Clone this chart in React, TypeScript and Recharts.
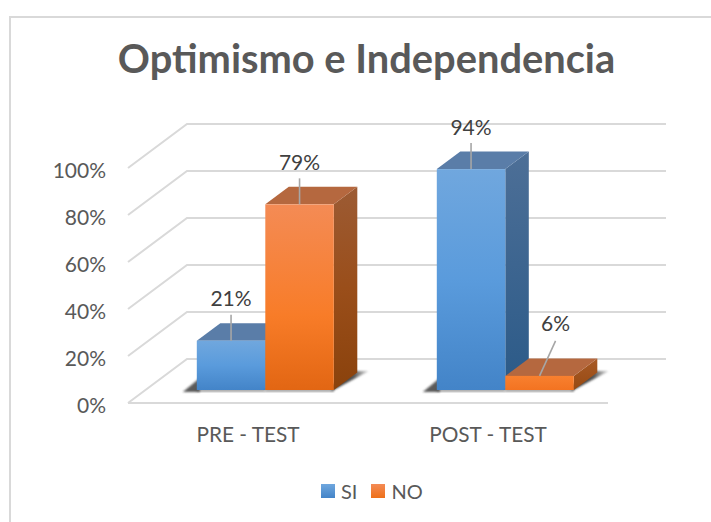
import React from "react";
import { BarChart, Bar, XAxis, YAxis, CartesianGrid, LabelList, Legend } from "recharts";

const categories = ["PRE - TEST", "POST - TEST"];
const siValues = [21, 94];
const noValues = [79, 6];
const yTicks = [0, 20, 40, 60, 80, 100];
const chartData = categories.map((name, i) => ({ name, SI: siValues[i], NO: noValues[i] }));

const FONT = "Lato, 'Open Sans', sans-serif";
const GRID = "#d9d9d9";
// 3D projection
const WALL_DX = 59, WALL_DY = 44;
const BAR_DX = 16.8, BAR_DY = 13;
const DEPTH_DX = 23.5, DEPTH_DY = 17.5;

const grad = (id: string, stops: [string, string][]) => (
  <linearGradient id={id} x1="0" y1="0" x2="0" y2="1">
    {stops.map(([o, c]) => <stop key={o} offset={o} stopColor={c} />)}
  </linearGradient>
);

const poly = (pts: number[][]) => pts.map((p) => p.join(",")).join(" ");

function Column3D(props: any) {
  const { x, y, width, height, kind } = props;
  const x0 = x + BAR_DX, y0 = y - BAR_DY, x1 = x0 + width, yb = y0 + height;
  const short = height < 30;
  const front = kind === "SI" ? "url(#siFront)" : short ? "url(#noFrontShort)" : "url(#noFront)";
  const side = kind === "SI" ? "url(#siSide)" : short ? "url(#noSideShort)" : "url(#noSide)";
  const top = kind === "SI" ? "#5a7da8" : "#b5683f";
  return (
    <g>
      {kind === "SI" ? (
        <polygon points={poly([[x0 - 14, yb + 2], [x0 + 3, yb + 2], [x0 + 3, yb - 12]])} fill="#333" filter="url(#soft)" opacity={0.8} />
      ) : (
        <polygon points={poly([[x1 - 2, yb + 1], [x1 + 35, yb - 19], [x1 + 20, yb - 19], [x1 - 2, yb - 5]])} fill="url(#shadowFade)" filter="url(#soft)" />
      )}
      <rect x={x0} y={yb - 0.5} width={width} height={2} fill="#555" filter="url(#soft)" opacity={0.75} />
      <polygon points={poly([[x1, y0], [x1 + DEPTH_DX, y0 - DEPTH_DY], [x1 + DEPTH_DX, yb - DEPTH_DY], [x1, yb]])} fill={side} />
      <polygon points={poly([[x0, y0], [x0 + DEPTH_DX, y0 - DEPTH_DY], [x1 + DEPTH_DX, y0 - DEPTH_DY], [x1, y0]])} fill={top} />
      <rect x={x0} y={y0} width={width} height={height} fill={front} />
    </g>
  );
}

function LeaderLabel(props: any) {
  const { x, y, width, height, value } = props;
  const cx = x + BAR_DX + width / 2;
  const ty = y - BAR_DY;
  const small = height < 30;
  const lx = small ? cx + 16 : cx;
  const lineEnd = small ? ty - 35 : ty - 26;
  const textY = small ? ty - 53 : ty - 43;
  return (
    <g>
      <line x1={cx} y1={ty} x2={lx} y2={lineEnd} stroke="#a6a6a6" strokeWidth={1.6} />
      <text x={lx} y={textY} textAnchor="middle" dominantBaseline="central" fontFamily={FONT} fontSize={21} fill="#404040">
        {value}%
      </text>
    </g>
  );
}

function GridLine(props: any) {
  const { x1, x2, y1 } = props;
  const isFloor = y1 > 400;
  return (
    <g key={`g-${y1}`}>
      <polyline
        points={poly([[x1, y1], [x1 + WALL_DX, y1 - WALL_DY], [x2 + WALL_DX - 1, y1 - WALL_DY]])}
        fill="none" stroke={GRID} strokeWidth={2}
      />
      {isFloor && <line x1={x1} y1={y1} x2={x2} y2={y1} stroke={GRID} strokeWidth={2} />}
    </g>
  );
}

function LegendBox() {
  const item = (label: string, bg: string, gap: number) => (
    <span style={{ display: "inline-flex", alignItems: "center", marginRight: gap }}>
      <span style={{ display: "inline-block", width: 14, height: 14, background: bg, marginRight: 6 }} />
      <span>{label}</span>
    </span>
  );
  return (
    <div style={{ fontFamily: FONT, fontSize: 20, color: "#595959", lineHeight: "24px", height: 24, display: "flex", whiteSpace: "nowrap" }}>
      {item("SI", "linear-gradient(#6fa7de,#4384c8)", 14)}
      {item("NO", "linear-gradient(#f48b55,#ee7019)", 0)}
    </div>
  );
}

export default function App() {
  return (
    <div style={{ position: "absolute", left: 0, top: 0, width: 711, height: 522, background: "#fff", overflow: "hidden" }}>
      <div style={{ position: "absolute", left: 9, top: 16, width: 720, height: 530, borderLeft: `2px solid ${GRID}`, borderTop: `2px solid ${GRID}` }} />
      <div style={{ position: "absolute", left: 0, width: 733, top: 33, textAlign: "center", fontFamily: FONT, fontWeight: 700, fontSize: 39.8, lineHeight: "50px", color: "#595959", whiteSpace: "nowrap" }}>
        Optimismo e Independencia
      </div>
      <BarChart
        width={711}
        height={522}
        data={chartData}
        barSize={68.5}
        barGap={0}
        margin={{ top: 168, right: 103, bottom: 55, left: 68 }}
        style={{ position: "absolute", left: 0, top: 0 }}
      >
        <defs>
          {grad("siFront", [["0", "#70a7de"], ["0.5", "#5a9bdc"], ["1", "#4384c8"]])}
          {grad("siSide", [["0", "#4d6f97"], ["1", "#2b5a88"]])}
          {grad("noFront", [["0", "#f48b55"], ["0.6", "#f87c28"], ["1", "#e26613"]])}
          {grad("noSide", [["0", "#9c5b34"], ["0.5", "#9a4e1a"], ["1", "#8a420c"]])}
          {grad("noFrontShort", [["0", "#f8802f"], ["1", "#f37321"]])}
          {grad("noSideShort", [["0", "#a85a26"], ["1", "#974a12"]])}
          <linearGradient id="shadowFade" x1="0" y1="0" x2="1" y2="0">
            <stop offset="0" stopColor="#333" />
            <stop offset="0.6" stopColor="#555" />
            <stop offset="1" stopColor="#999" stopOpacity={0.4} />
          </linearGradient>
          <filter id="soft" x="-30%" y="-60%" width="160%" height="220%">
            <feGaussianBlur stdDeviation="0.8" />
          </filter>
        </defs>
        <CartesianGrid vertical={false} horizontal={GridLine as any} />
        <XAxis
          dataKey="name"
          axisLine={false}
          tickLine={false}
          height={40}
          tickMargin={18}
          interval={0}
          tick={{ fontFamily: FONT, fontSize: 20.8, fill: "#595959" }}
        />
        <YAxis
          type="number"
          width={60}
          domain={[0, 100]}
          ticks={yTicks}
          axisLine={false}
          tickLine={false}
          tickMargin={16}
          tickFormatter={(v: number) => `${v}%`}
          tick={{ fontFamily: FONT, fontSize: 21, fill: "#595959", dy: 2.5 }}
        />
        <Legend
          content={<LegendBox />}
          wrapperStyle={{ position: "absolute", left: 321, top: 479, width: "auto", height: 24 }}
        />
        <Bar dataKey="SI" isAnimationActive={false} shape={(p: any) => <Column3D {...p} kind="SI" />}>
          <LabelList dataKey="SI" content={LeaderLabel as any} />
        </Bar>
        <Bar dataKey="NO" isAnimationActive={false} shape={(p: any) => <Column3D {...p} kind="NO" />}>
          <LabelList dataKey="NO" content={LeaderLabel as any} />
        </Bar>
      </BarChart>
    </div>
  );
}
